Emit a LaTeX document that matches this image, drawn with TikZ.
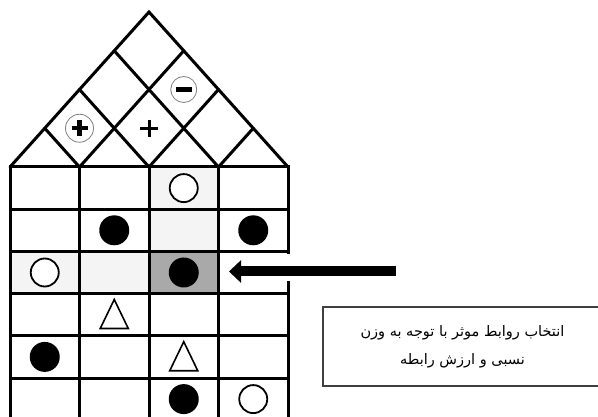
\documentclass[tikz,border=0pt]{standalone}
\usepackage{fontspec}
\newfontfamily\arabicfont[Script=Arabic]{DejaVu Sans}
\TeXXeTstate=1
\usetikzlibrary{arrows.meta}
\definecolor{lightcell}{HTML}{F4F4F4}
\definecolor{darkcell}{HTML}{A9A9A9}
\tikzset{
  gridline/.style={line width=3pt, line cap=rect},
  roofline/.style={line width=3pt, line cap=round},
  wcirc/.style={circle, draw, line width=1.8pt, fill=white, minimum size=28pt, inner sep=0pt},
  bdisk/.style={circle, fill=black, minimum size=30pt, inner sep=0pt},
  ring/.style={circle, draw=gray, line width=0.8pt, minimum size=28pt, inner sep=0pt},
  tri/.style={line width=1.6pt, line join=miter},
  bar/.style={line width=4pt},
  textbox/.style={draw=black!75, line width=1.3pt, minimum width=279pt, minimum height=79pt, inner sep=0pt},
}
\begin{document}
\begin{tikzpicture}[x=1pt, y=-1pt]
\useasboundingbox (0,0) rectangle (598,417);
\clip (0,0) rectangle (598,417);
% shaded cells
\fill[lightcell] (149,167) rectangle (218.5,251.4);
\fill[lightcell] (10,251.4) rectangle (149,293.6);
\fill[darkcell] (149,251.4) rectangle (218.5,293.6);
% roof coordinates
\coordinate (apex) at (149,12);
\foreach \k in {0,...,4} { \coordinate (b\k) at ({10+69.5*\k},167); }
\foreach \k in {1,2,3} {
  \coordinate (l\k) at ({10+34.75*\k},{167-38.75*\k});
  \coordinate (r\k) at ({288-34.75*\k},{167-38.75*\k});
}
\draw[roofline] (b0) -- (apex) -- (b4);
\draw[roofline] (b1) -- (l1) (b2) -- (l2) (b3) -- (l3);
\draw[roofline] (b1) -- (r3) (b2) -- (r2) (b3) -- (r1);
% grid
\foreach \y in {167,209.2,251.4,293.6,335.8,378} { \draw[gridline] (10,\y) -- (288,\y); }
\foreach \x in {10,79.5,149,218.5} { \draw[gridline] (\x,167) -- (\x,420); }
\draw[gridline] (288,167) -- (288,253);
\draw[gridline] (288,283) -- (288,420);
% roof symbols
\node[ring] (cplus) at (79.5,128.25) {};
\draw[bar, line width=4.5pt] ([xshift=-8pt]cplus.center) -- ([xshift=8pt]cplus.center);
\draw[bar, line width=4.5pt] ([yshift=-8pt]cplus.center) -- ([yshift=8pt]cplus.center);
\node[inner sep=0pt, minimum size=17pt] (plus) at (149,128.25) {};
\draw[bar, line width=3pt] (plus.west) -- (plus.east);
\draw[bar, line width=3pt] (plus.north) -- (plus.south);
\node[ring, minimum size=26pt] (cminus) at (183.75,89.5) {};
\draw[bar, line width=4.5pt] ([xshift=-8pt]cminus.center) -- ([xshift=8pt]cminus.center);
% cell symbols
\node[wcirc] (s13) at (183.75,188.1) {};
\node[bdisk] (s22) at (114.25,230.3) {};
\node[bdisk] (s24) at (253.25,230.3) {};
\node[wcirc] (s31) at (44.75,272.5) {};
\node[bdisk] (s33) at (183.75,272.5) {};
\node[bdisk] (s51) at (44.75,356.9) {};
\node[bdisk] (s63) at (183.75,399.1) {};
\node[wcirc] (s64) at (253.25,399.1) {};
\draw[tri] (114.25,299.5) -- (128.25,328.5) -- (100.25,328.5) -- cycle;
\draw[tri] (183.75,341.7) -- (197.75,370.7) -- (169.75,370.7) -- cycle;
% arrow
\coordinate (atail) at (396,271.5);
\coordinate (atip) at (229,271.5);
\draw[line width=10pt, -{Triangle[length=12pt,width=22pt]}] (atail) -- (atip);
% text box
\node[textbox, align=center, font=\arabicfont\fontsize{14.5}{28}\selectfont] (box) at (462.5,346.5)
  {\beginR انتخاب روابط موثر با توجه به وزن\endR\\ \beginR نسبی و ارزش رابطه\endR};
\end{tikzpicture}
\end{document}
